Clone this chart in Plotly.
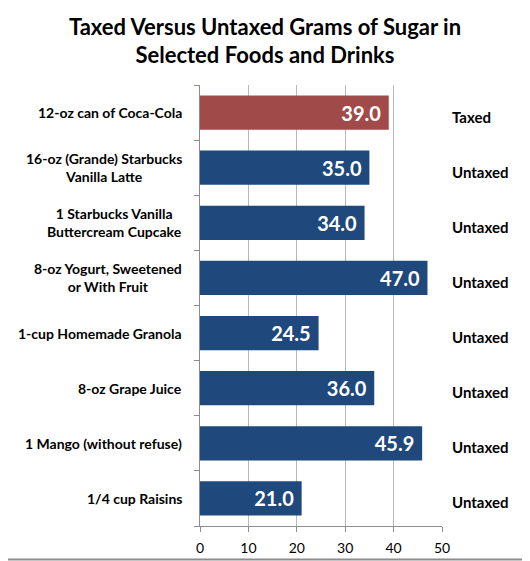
import plotly.graph_objects as go

categories = [
    "12-oz can of Coca-Cola",
    "16-oz (Grande) Starbucks<br>Vanilla Latte",
    "1 Starbucks Vanilla<br>Buttercream Cupcake",
    "8-oz Yogurt, Sweetened<br>or With Fruit",
    "1-cup Homemade Granola",
    "8-oz Grape Juice",
    "1 Mango (without refuse)",
    "1/4 cup Raisins",
]
sugar_grams = [39.0, 35.0, 34.0, 47.0, 24.5, 36.0, 45.9, 21.0]
tax_status = ["Taxed", "Untaxed", "Untaxed", "Untaxed", "Untaxed", "Untaxed", "Untaxed", "Untaxed"]
x_ticks = [0, 10, 20, 30, 40, 50]

RED = "#A04B4A"
BLUE = "#1F487C"
FONT = "Lato"

colors = [RED if s == "Taxed" else BLUE for s in tax_status]
ids = list(range(len(categories)))

fig = go.Figure()
fig.add_trace(go.Bar(
    y=ids,
    x=sugar_grams,
    orientation="h",
    marker=dict(color=colors, line=dict(width=0)),
    text=[f"{v:.1f} " for v in sugar_grams],
    textposition="inside",
    insidetextanchor="end",
    textfont=dict(family=FONT, size=20, color="white", weight="bold"),
    hoverinfo="skip",
))

annotations = []
for i, (cat, st) in enumerate(zip(categories, tax_status)):
    annotations.append(dict(
        x=0, y=i, xref="paper", yref="y", text=f"<b>{cat}</b>",
        xanchor="right", yanchor="middle", align="center", xshift=-16,
        showarrow=False, font=dict(family=FONT, size=14, color="black"),
    ))
    annotations.append(dict(
        x=1.035, y=i, xref="paper", yref="y", text=f"<b>{st}</b>",
        xanchor="left", yanchor="middle", align="left", yshift=-4,
        showarrow=False, font=dict(family=FONT, size=15, color="black"),
    ))

fig.update_layout(
    width=522, height=553,
    margin=dict(l=192, r=88, t=77, b=35, autoexpand=False),
    paper_bgcolor="white", plot_bgcolor="white",
    bargap=0.38,
    showlegend=False,
    title=dict(
        text="<b>Taxed Versus Untaxed Grams of Sugar in<br>Selected Foods and Drinks</b>",
        x=0.4923, xanchor="center", xref="container", y=0.952, yanchor="top",
        font=dict(family=FONT, size=22, color="black"),
    ),
    annotations=annotations,
    xaxis=dict(
        range=[0, 50], tickvals=x_ticks, showgrid=True, gridcolor="#B8B8B8", gridwidth=1,
        showline=True, linecolor="#8C8C8C", ticks="outside", ticklen=5, tickcolor="#8C8C8C",
        ticklabelstandoff=4, automargin=False,
        tickfont=dict(family=FONT, size=14, color="black"), zeroline=False,
    ),
    yaxis=dict(
        range=[7.5, -0.5], tickvals=[i + 0.5 for i in range(-1, len(categories))],
        showticklabels=False, showgrid=False, zeroline=False, automargin=False,
        showline=True, linecolor="#8C8C8C", ticks="outside", ticklen=5, tickcolor="#8C8C8C",
    ),
    shapes=[
        dict(type="line", xref="paper", yref="paper", x0=-0.85, x1=1.4, y0=-0.076, y1=-0.076,
             line=dict(color="#8C8C8C", width=2)),
    ],
)

fig.write_html("out.html")
